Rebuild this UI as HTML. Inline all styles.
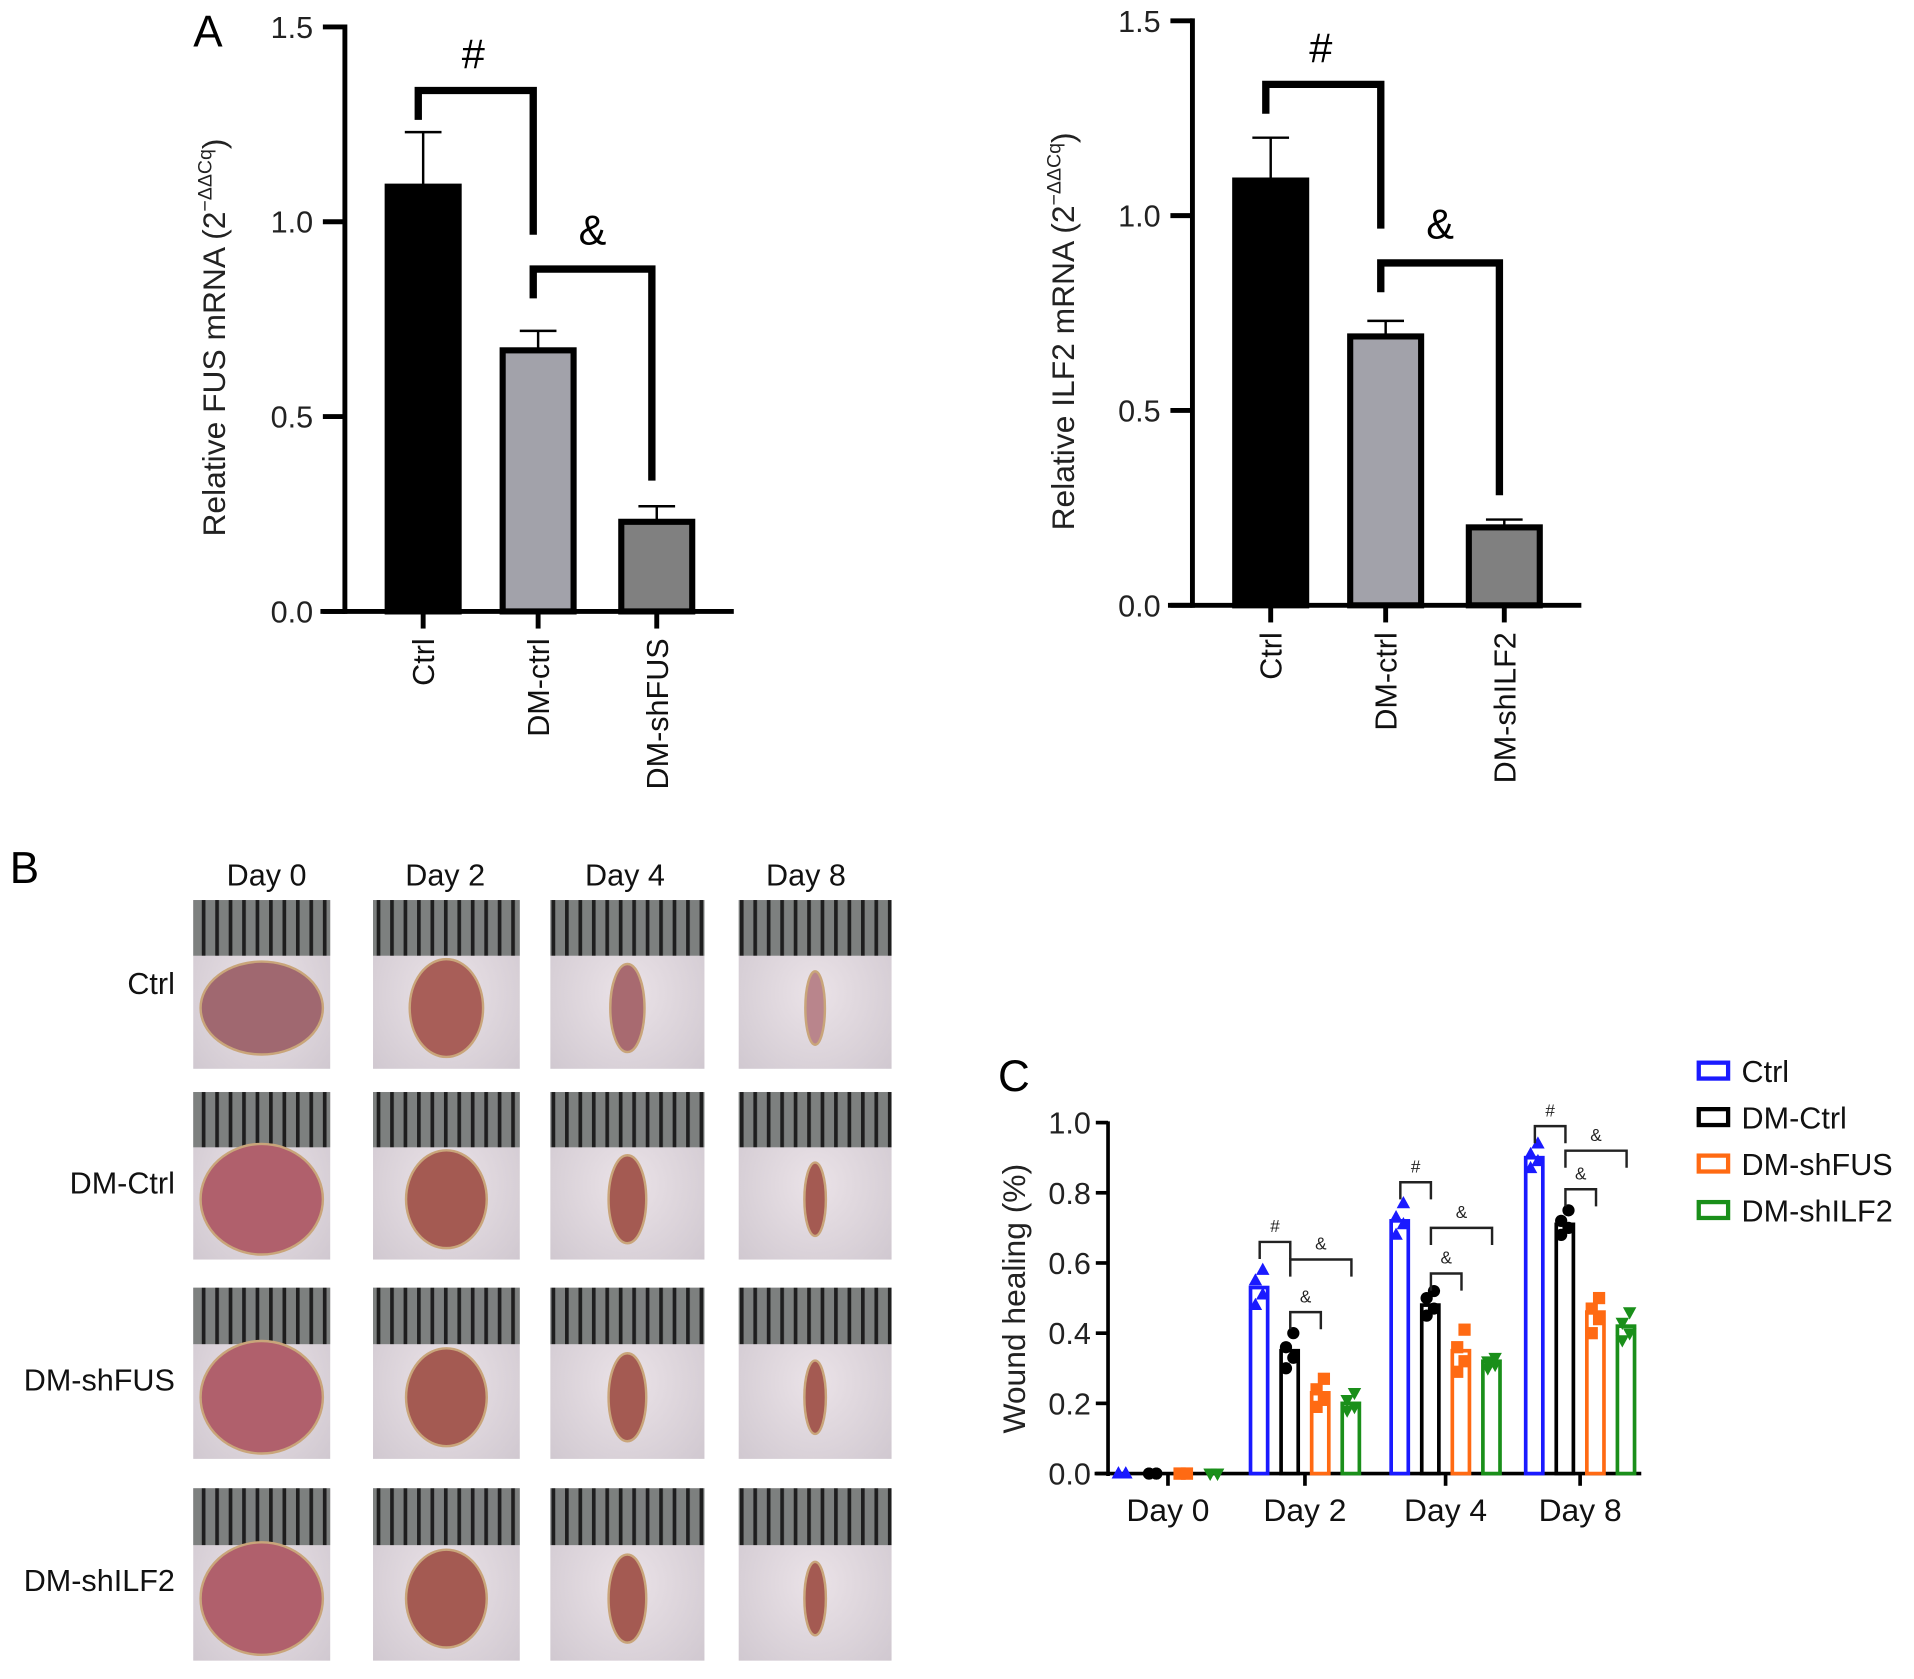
<!DOCTYPE html>
<html><head><meta charset="utf-8"><style>
html,body{margin:0;padding:0;background:#fff;}
svg{display:block;font-family:"Liberation Sans",Arial,sans-serif;}
</style></head><body>
<svg id="fig" width="1914" height="1679" viewBox="0 0 1565 1373" preserveAspectRatio="none">
<defs>
<pattern id="ruler" width="11" height="50" patternUnits="userSpaceOnUse">
<rect width="11" height="50" fill="#7d807f"/><rect x="0" width="3" height="50" fill="#1e1e1e"/>
</pattern>
<radialGradient id="skin" cx="50%" cy="55%" r="70%"><stop offset="0" stop-color="#ebe3e8"/><stop offset="1" stop-color="#cfc7cf"/></radialGradient>
</defs>
<g id="panelA"></g>
<g id="panelA2"></g>
<g id="panelB"></g>
<g id="panelC"></g>
</svg>
<script>
// ---- Panel A data ----
const catsA1 = ["Ctrl","DM-ctrl","DM-shFUS"];
const valsA1 = [1.09, 0.67, 0.23];
const errA1 = [1.23, 0.72, 0.27];
const catsA2 = ["Ctrl","DM-ctrl","DM-shILF2"];
const valsA2 = [1.09, 0.69, 0.20];
const errA2 = [1.20, 0.73, 0.22];
const ticksA = [0.0, 0.5, 1.0, 1.5];
const tickLabelsA = ["0.0","0.5","1.0","1.5"];
// ---- Panel C data ----
const daysC = ["Day 0","Day 2","Day 4","Day 8"];
const seriesC = ["Ctrl","DM-Ctrl","DM-shFUS","DM-shILF2"];
const meanCtrl = [0, 0.53, 0.72, 0.90];
const meanDMCtrl = [0, 0.35, 0.48, 0.71];
const meanShFUS = [0, 0.23, 0.35, 0.46];
const meanShILF2 = [0, 0.20, 0.32, 0.42];
const ptsCtrl = [[0,0,0,0],[0.48,0.51,0.55,0.58],[0.68,0.71,0.73,0.77],[0.87,0.89,0.91,0.94]];
const ptsDMCtrl = [[0,0,0,0],[0.30,0.33,0.36,0.40],[0.45,0.47,0.50,0.52],[0.68,0.70,0.72,0.75]];
const ptsShFUS = [[0,0,0,0],[0.19,0.21,0.24,0.27],[0.29,0.32,0.36,0.41],[0.40,0.44,0.47,0.50]];
const ptsShILF2 = [[0,0,0,0],[0.18,0.19,0.21,0.23],[0.30,0.31,0.32,0.33],[0.38,0.40,0.43,0.46]];
const hashLevel = [null, 0.66, 0.83, 0.99];
const ampWideLevel = [null, 0.61, 0.70, 0.92];
const ampShortLevel = [null, 0.46, 0.57, 0.81];
const ticksC = [0,0.2,0.4,0.6,0.8,1.0];
const tickLabelsC = ["0.0","0.2","0.4","0.6","0.8","1.0"];

const NS="http://www.w3.org/2000/svg";
function el(tag, attrs, parent, text){
  const e=document.createElementNS(NS,tag);
  for(const k in attrs) e.setAttribute(k,attrs[k]);
  if(text!==undefined) e.textContent=text;
  parent.appendChild(e); return e;
}

function barChart(g, cfg){
  const y = v => cfg.y0 - v*(cfg.y0-cfg.y1)/1.5;
  const ax = cfg.ax;
  let l=el('line',{x1:ax,y1:cfg.y1-2,x2:ax,y2:cfg.y0+2,stroke:'#000','stroke-width':4},g);
  
  
  l=el('line',{x1:ax-20,y1:cfg.y0,x2:ax+318,y2:cfg.y0,stroke:'#000','stroke-width':4},g);
  
  
  ticksA.forEach((t,i)=>{
    const tk=el('line',{x1:ax-18,y1:y(t),x2:ax,y2:y(t),stroke:'#000','stroke-width':4},g);
    
    
    const tx=el('text',{x:ax-26,y:y(t)+9,'text-anchor':'end','font-size':25,fill:'#222'},g,tickLabelsA[i]);
    
    
  });
  const fills=['#000','#a2a2aa','#808080'];
  const xs=[ax+64, ax+158, ax+255];
  cfg.vals.forEach((v,i)=>{
    const cx=xs[i];
    const eb=el('path',{d:`M${cx},${y(v)} V${y(cfg.err[i])} M${cx-15},${y(cfg.err[i])} H${cx+15}`,stroke:'#000','stroke-width':2,fill:'none'},g);
    
    
    const b=el('rect',{x:cx-29,y:y(v),width:58,height:cfg.y0-y(v),fill:fills[i],stroke:'#000','stroke-width':5},g);
    
    
    const tk=el('line',{x1:cx,y1:cfg.y0,x2:cx,y2:cfg.y0+14,stroke:'#000','stroke-width':4},g);
    
    
    const lb=el('text',{x:0,y:0,'text-anchor':'end','font-size':25,fill:'#111',transform:`translate(${cx+9},${cfg.y0+22}) rotate(-90)`},g,cfg.cats[i]);
    
    
  });
  const b1=el('path',{d:`M${xs[0]-4},${cfg.y1+76} V${cfg.y1+52} H${xs[1]-4} V${cfg.y1+170}`,stroke:'#000','stroke-width':6,fill:'none'},g);
  
  
  const h=el('text',{x:(xs[0]+xs[1])/2-6,y:cfg.y1+34,'text-anchor':'middle','font-size':34,fill:'#000'},g,'#');
  
  
  const b2=el('path',{d:`M${xs[1]-4},${cfg.y1+222} V${cfg.y1+198} H${xs[2]-4} V${cfg.y1+cfg.ampDrop}`,stroke:'#000','stroke-width':6,fill:'none'},g);
  
  
  const a=el('text',{x:(xs[1]+xs[2])/2-4,y:cfg.y1+178,'text-anchor':'middle','font-size':34,fill:'#000'},g,'&');
  
  
  const yl=el('text',{x:0,y:0,'text-anchor':'middle','font-size':26,fill:'#222',transform:`translate(${cfg.ylx},${(cfg.y0+cfg.y1)/2+15}) rotate(-90)`},g);
  
  
  el('tspan',{},yl,cfg.ylabel+' (2');
  el('tspan',{'font-size':16,dy:-11},yl,'\u2212\u0394\u0394Cq');
  el('tspan',{'font-size':26,dy:11},yl,')');
}

const gA=document.getElementById('panelA');
const lA=el('text',{x:158,y:38,'font-size':36,fill:'#000'},gA,'A');


barChart(gA,{ax:282,y0:500,y1:22,vals:valsA1,err:errA1,cats:catsA1,ylabel:'Relative FUS mRNA',ylx:184,ampDrop:371});
barChart(document.getElementById('panelA2'),{ax:975,y0:495,y1:17,vals:valsA2,err:errA2,cats:catsA2,ylabel:'Relative ILF2 mRNA',ylx:878,ampDrop:388});

// ---- Panel B photos ----
const gB=document.getElementById('panelB');
const lB=el('text',{x:8,y:722,'font-size':36,fill:'#000'},gB,'B');


const dayLabels=["Day 0","Day 2","Day 4","Day 8"];
const rowLabels=["Ctrl","DM-Ctrl","DM-shFUS","DM-shILF2"];
const colX=[158,305,450,604], colW=[112,120,126,125];
const rowY=[736,893,1053,1217], rowH=[138,137,140,141];
const dayX=[218,364,511,659];
dayLabels.forEach((d,i)=>{
  const t=el('text',{x:dayX[i],y:724,'text-anchor':'middle','font-size':25,fill:'#111'},gB,d);
  
  
});
const rowTY=[813,976,1137,1301];
rowLabels.forEach((r,i)=>{
  const t=el('text',{x:143,y:rowTY[i],'text-anchor':'end','font-size':25,fill:'#111'},gB,r);
  
  
});
const woundR=[[50,38],[30,40],[14,36],[8,30]];
const woundC=['#a06870','#a85e58','#a86a70','#b9858c'];
rowLabels.forEach((r,ri)=>{
  dayLabels.forEach((d,ci)=>{
    const x=colX[ci], y=rowY[ri], w=colW[ci], h=rowH[ri];
    const ph=el('g',{},gB);
    
    
    el('rect',{x:x,y:y,width:w,height:h,fill:'url(#skin)'},ph);
    el('rect',{x:x,y:y,width:w,height:h*0.33,fill:'url(#ruler)'},ph);
    let rx=woundR[ci][0], ry=woundR[ci][1];
    let col=woundC[ci];
    if(ci===0 && ri>0){ rx=50; ry=46; col='#b0606c'; }
    if(ri>0 && ci>0){ rx*=1.1; col='#a45a52'; }
    el('ellipse',{cx:x+w/2,cy:y+h*0.64,rx:rx,ry:Math.min(ry,h*0.33),fill:col,stroke:'#c9a57a','stroke-width':2},ph);
  });
});

// ---- Panel C ----
const gC=document.getElementById('panelC');
const yC=v=>1205-v*287;
const tickX=[955,1067,1182,1292];
const colors=['#1a1aff','#000000','#ff6a13','#1a8f1a'];
const means=[meanCtrl,meanDMCtrl,meanShFUS,meanShILF2];
const pts=[ptsCtrl,ptsDMCtrl,ptsShFUS,ptsShILF2];
const lC=el('text',{x:816,y:892,'font-size':36,fill:'#000'},gC,'C');


let ax=el('line',{x1:906,y1:yC(1.0)-1,x2:906,y2:1207,stroke:'#000','stroke-width':3},gC);


ax=el('line',{x1:895,y1:1205,x2:1342,y2:1205,stroke:'#000','stroke-width':3},gC);


ticksC.forEach((t,i)=>{
  const tk=el('line',{x1:896,y1:yC(t),x2:906,y2:yC(t),stroke:'#000','stroke-width':3},gC);
  
  
  const tx=el('text',{x:892,y:yC(t)+9,'text-anchor':'end','font-size':25,fill:'#222'},gC,tickLabelsC[i]);
  
  
});
const ylC=el('text',{x:0,y:0,'text-anchor':'middle','font-size':26,fill:'#222',transform:'translate(838,1062) rotate(-90)'},gC,'Wound healing (%)');


function marker(s,cx,cy,c,parent){
  let m;
  if(s===0) m=el('path',{d:`M${cx},${cy-6} L${cx+5.5},${cy+4} L${cx-5.5},${cy+4}Z`,fill:c},parent);
  else if(s===1) m=el('circle',{cx:cx,cy:cy,r:5,fill:c},parent);
  else if(s===2) m=el('rect',{x:cx-5,y:cy-5,width:10,height:10,fill:c},parent);
  else m=el('path',{d:`M${cx},${cy+6} L${cx+5.5},${cy-4} L${cx-5.5},${cy-4}Z`,fill:c},parent);
  return m;
}
daysC.forEach((d,di)=>{
  const tk=el('line',{x1:tickX[di],y1:1205,x2:tickX[di],y2:1215,stroke:'#000','stroke-width':3},gC);
  
  
  const tl=el('text',{x:tickX[di],y:1244,'text-anchor':'middle','font-size':26,fill:'#111'},gC,d);
  
  
  seriesC.forEach((s,si)=>{
    const cx=tickX[di]+(si-1.5)*25;
    const v=means[si][di];
    if(v>0){
      const b=el('rect',{x:cx-7,y:yC(v),width:14,height:1205-yC(v),fill:'#fff',stroke:colors[si],'stroke-width':3},gC);
      
      
    }
    pts[si][di].forEach((p,pi)=>{
      const m=marker(si,cx+(pi%2?3:-3),yC(p),colors[si],gC);
      
      
    });
  });
  if(hashLevel[di]!==null){
    const xb=tickX[di]-37, xd=tickX[di]-12, xg=tickX[di]+38, xo=tickX[di]+13;
    const br=(x1,x2,lv,sym,nm)=>{
      const p=el('path',{d:`M${x1},${yC(lv)+14} V${yC(lv)} H${x2} V${yC(lv)+14}`,stroke:'#222','stroke-width':2,fill:'none'},gC);
      
      
      const t=el('text',{x:(x1+x2)/2,y:yC(lv)-8,'text-anchor':'middle','font-size':14,fill:'#222'},gC,sym);
      
      
    };
    br(xb,xd,hashLevel[di],'#','bracket-hash');
    br(xd,xg,ampWideLevel[di],'&','bracket-amp-wide');
    br(xd,xo,ampShortLevel[di],'&','bracket-amp-short');
  }
});
seriesC.forEach((s,si)=>{
  const y=876+si*38;
  const r=el('rect',{x:1389,y:y-7,width:24,height:13,fill:'#fff',stroke:colors[si],'stroke-width':3.5},gC);
  
  
  const t=el('text',{x:1424,y:y+9,'font-size':25,fill:'#111'},gC,s);
  
  
});
</script>
</body></html>
